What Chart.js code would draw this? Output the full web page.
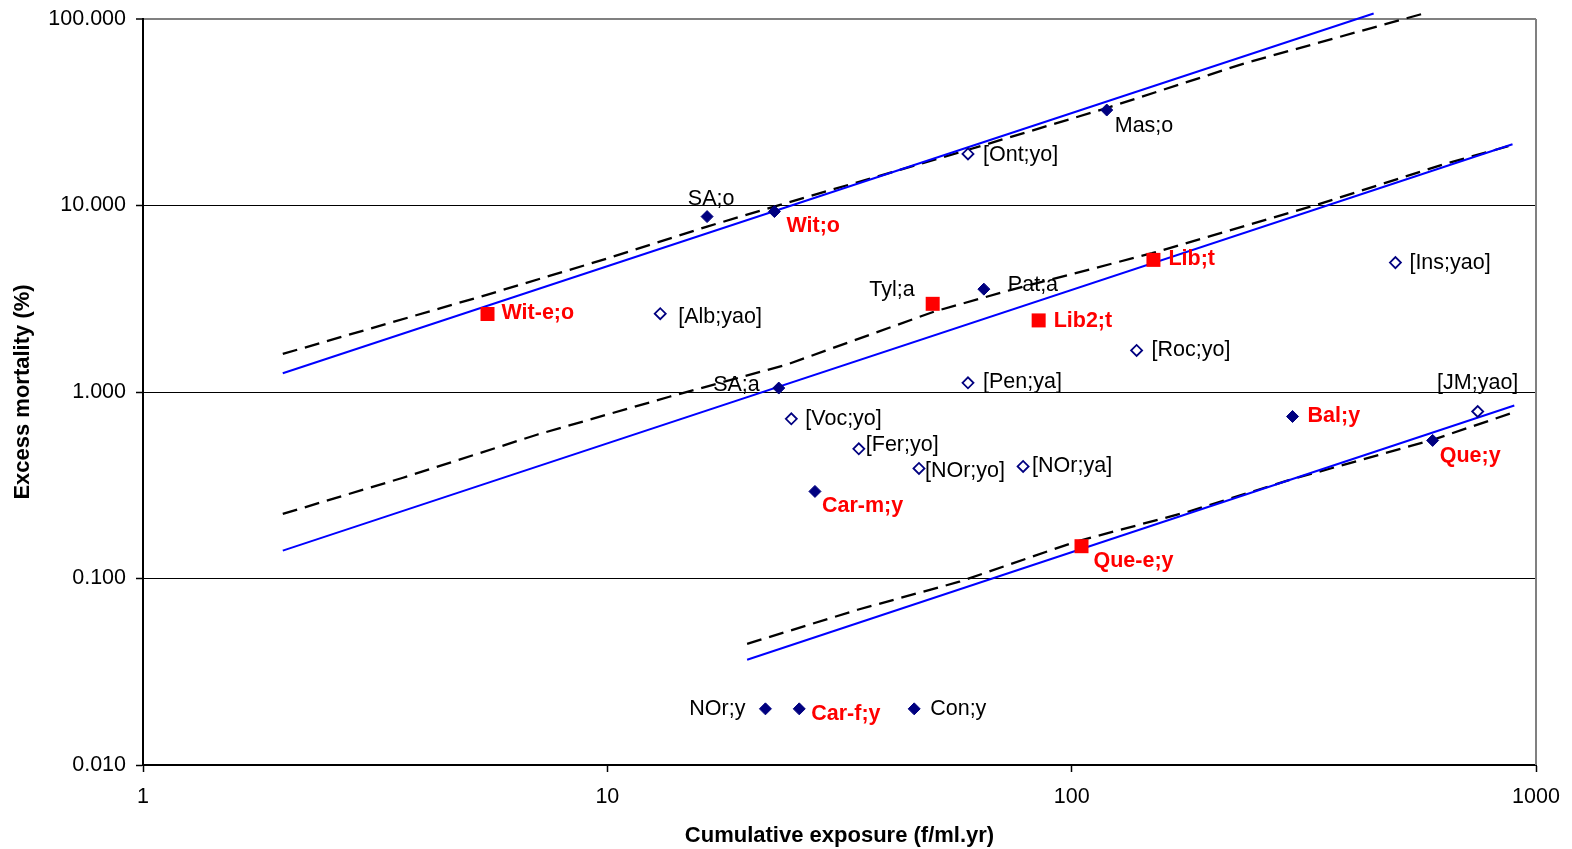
<!DOCTYPE html>
<html>
<head>
<meta charset="utf-8">
<script src="https://cdn.jsdelivr.net/npm/chart.js@4"></script>
<style>
  html, body { margin: 0; padding: 0; background: #fff; }
  #wrap { width: 1572px; height: 849px; }
</style>
</head>
<body>
<div id="wrap"><canvas id="mortalityChart" width="1572" height="849"></canvas></div>
<script>
// filled diamonds
const filledNames = ["SA;o", "Wit;o", "Mas;o", "Pat;a", "SA;a", "Car-m;y", "Bal;y", "Que;y", "NOr;y", "Car-f;y", "Con;y"];
const filledX = [16.4, 22.9, 119, 64.7, 23.4, 28.0, 299, 599, 21.9, 25.9, 45.8];
const filledY = [8.72, 9.28, 32.5, 3.56, 1.05, 0.293, 0.739, 0.550, 0.020, 0.020, 0.020];

// open diamonds
const openNames = ["[Ont;yo]", "[Alb;yao]", "[Ins;yao]", "[Roc;yo]", "[Pen;ya]", "[JM;yao]", "[Voc;yo]", "[Fer;yo]", "[NOr;yo]", "[NOr;ya]"];
const openX = [59.8, 13.0, 498, 138, 59.8, 749, 24.9, 34.8, 46.9, 78.6];
const openY = [18.9, 2.63, 4.94, 1.67, 1.12, 0.786, 0.718, 0.496, 0.389, 0.399];

// red squares
const squareNames = ["Wit-e;o", "Tyl;a", "Lib;t", "Lib2;t", "Que-e;y"];
const squareX = [5.52, 50.2, 150, 84.9, 105];
const squareY = [2.62, 2.97, 5.11, 2.42, 0.149];

// labels printed in red bold
const redNames = ["Wit;o", "Car-m;y", "Bal;y", "Que;y", "Car-f;y", "Wit-e;o", "Lib;t", "Lib2;t", "Que-e;y"];

// blue straight lines
const fitTopX = [2, 447];
const fitTopY = [1.26, 107];
const fitMidX = [2, 890];
const fitMidY = [0.141, 21.3];
const fitLowX = [20, 898];
const fitLowY = [0.0367, 0.847];

// dashed black curves
const dashTopX = [2, 5.5, 9.77, 16.4, 22.4, 59.9, 119, 237, 573];
const dashTopY = [1.60, 3.32, 5.11, 7.71, 9.71, 19.9, 33.3, 58.1, 107];
const dashMidX = [2, 3.63, 7.05, 13.6, 24.3, 50.6, 74.1, 149, 338, 646, 891];
const dashMidY = [0.222, 0.347, 0.590, 0.943, 1.40, 2.70, 3.53, 5.55, 10.1, 16.9, 21.1];
const dashLowX = [20, 34.6, 57.3, 102, 178, 295, 599, 899];
const dashLowY = [0.0446, 0.068, 0.0961, 0.1575, 0.228, 0.338, 0.554, 0.780];

const xTicks = [1, 10, 100, 1000];
const yTicks = [0.01, 0.1, 1, 10, 100];

// label offsets from the marker: dx, dy, text align
const labelPlacement = {
  "SA;o": [4, -18, "center"],
  "Wit;o": [12, 15, "left"],
  "Mas;o": [8, 16, "left"],
  "Pat;a": [24, -4, "left"],
  "SA;a": [-19, -3, "right"],
  "Car-m;y": [7, 15, "left"],
  "Bal;y": [15, 0, "left"],
  "Que;y": [7, 16, "left"],
  "NOr;y": [-20, 0, "right"],
  "Car-f;y": [12, 5, "left"],
  "Con;y": [16, 0, "left"],
  "[Ont;yo]": [15, 1, "left"],
  "[Alb;yao]": [18, 3, "left"],
  "[Ins;yao]": [14, 0, "left"],
  "[Roc;yo]": [15, 0, "left"],
  "[Pen;ya]": [15, -1, "left"],
  "[JM;yao]": [0, -28, "center"],
  "[Voc;yo]": [14, 0, "left"],
  "[Fer;yo]": [7, -4, "left"],
  "[NOr;yo]": [6, 3, "left"],
  "[NOr;ya]": [9, 0, "left"],
  "Wit-e;o": [14, -1, "left"],
  "Tyl;a": [-18, -14, "right"],
  "Lib;t": [15, -1, "left"],
  "Lib2;t": [15, 1, "left"],
  "Que-e;y": [12, 15, "left"]
};

const FONT = '"Liberation Sans", Arial, sans-serif';

const pts = (xs, ys) => xs.map((x, i) => ({ x: x, y: ys[i] }));

const pointLabels = {
  id: "pointLabels",
  beforeDatasetsDraw(chart) {
    // grey right edge of the plot area
    const ctx = chart.ctx;
    const a = chart.chartArea;
    ctx.save();
    ctx.strokeStyle = "#808080";
    ctx.lineWidth = 2;
    ctx.beginPath();
    ctx.moveTo(a.right, a.top);
    ctx.lineTo(a.right, a.bottom);
    ctx.stroke();
    ctx.restore();
  },
  afterDatasetsDraw(chart) {
    const ctx = chart.ctx;
    ctx.save();
    chart.data.datasets.forEach((ds, di) => {
      if (!ds.names) return;
      const meta = chart.getDatasetMeta(di);
      meta.data.forEach((el, i) => {
        const name = ds.names[i];
        const place = labelPlacement[name];
        const red = redNames.includes(name);
        ctx.font = (red ? "bold " : "") + "21.5px " + FONT;
        ctx.fillStyle = red ? "#FF0000" : "#000000";
        ctx.textAlign = place[2];
        ctx.textBaseline = "middle";
        ctx.fillText(name, el.x + place[0], el.y + place[1]);
      });
    });
    ctx.restore();
  }
};

const blueLine = (xs, ys) => ({
  data: pts(xs, ys),
  showLine: true,
  borderColor: "#0000FF",
  borderWidth: 2,
  pointRadius: 0,
  clip: false
});

const dashLine = (xs, ys) => ({
  data: pts(xs, ys),
  showLine: true,
  borderColor: "#000000",
  borderWidth: 2.3,
  borderDash: [15, 8],
  pointRadius: 0,
  clip: false
});

new Chart(document.getElementById("mortalityChart"), {
  type: "scatter",
  data: {
    datasets: [
      {
        names: filledNames,
        data: pts(filledX, filledY),
        pointStyle: "rectRot",
        pointRadius: 6,
        backgroundColor: "#000080",
        borderColor: "#000080",
        borderWidth: 1
      },
      {
        names: openNames,
        data: pts(openX, openY),
        pointStyle: "rectRot",
        pointRadius: 5.5,
        backgroundColor: "#FFFFFF",
        borderColor: "#000080",
        borderWidth: 1.8
      },
      {
        names: squareNames,
        data: pts(squareX, squareY),
        pointStyle: "rect",
        pointRadius: 9.9,
        backgroundColor: "#FF0000",
        borderColor: "#FF0000",
        borderWidth: 0
      },
      blueLine(fitTopX, fitTopY),
      blueLine(fitMidX, fitMidY),
      blueLine(fitLowX, fitLowY),
      dashLine(dashTopX, dashTopY),
      dashLine(dashMidX, dashMidY),
      dashLine(dashLowX, dashLowY)
    ]
  },
  options: {
    responsive: false,
    animation: false,
    devicePixelRatio: 1,
    layout: { padding: { top: 19, right: 36, bottom: 0, left: 0 } },
    plugins: {
      legend: { display: false },
      tooltip: { enabled: false }
    },
    scales: {
      x: {
        type: "logarithmic",
        min: 1,
        max: 1000,
        afterBuildTicks: (s) => { s.ticks = xTicks.map((v) => ({ value: v })); },
        afterFit: (s) => {
          s.height = 84;
          s.paddingLeft = 0;
          s.paddingRight = 0;
        },
        grid: {
          drawOnChartArea: false,
          drawTicks: true,
          tickLength: 7,
          tickColor: "#000000",
          tickWidth: 1.5
        },
        border: { color: "#000000", width: 2 },
        ticks: {
          callback: (v) => String(v),
          color: "#000000",
          font: { family: FONT, size: 21.5 },
          padding: 12.5,
          maxRotation: 0,
          autoSkip: false
        },
        title: {
          display: true,
          text: "Cumulative exposure (f/ml.yr)",
          color: "#000000",
          font: { family: FONT, size: 22, weight: "bold" },
          padding: { top: 0, bottom: 0 }
        }
      },
      y: {
        type: "logarithmic",
        min: 0.01,
        max: 100,
        afterBuildTicks: (s) => { s.ticks = yTicks.map((v) => ({ value: v })); },
        afterFit: (s) => {
          s.width = 143;
          s.paddingTop = 0;
          s.paddingBottom = 0;
        },
        grid: {
          color: (c) => (c.tick && c.tick.value === 100 ? "#808080" : "#000000"),
          lineWidth: (c) => (c.tick && c.tick.value === 100 ? 2 : 1),
          drawTicks: true,
          tickLength: 7,
          tickColor: "#000000",
          tickWidth: 1.5
        },
        border: { color: "#000000", width: 2 },
        ticks: {
          callback: (v) => Number(v).toFixed(3),
          color: "#000000",
          font: { family: FONT, size: 21.5 },
          padding: 10,
          autoSkip: false
        },
        title: {
          display: true,
          text: "Excess mortality (%)",
          color: "#000000",
          font: { family: FONT, size: 22, weight: "bold" },
          padding: { top: 10, bottom: 0 }
        }
      }
    }
  },
  plugins: [pointLabels]
});
</script>
</body>
</html>
